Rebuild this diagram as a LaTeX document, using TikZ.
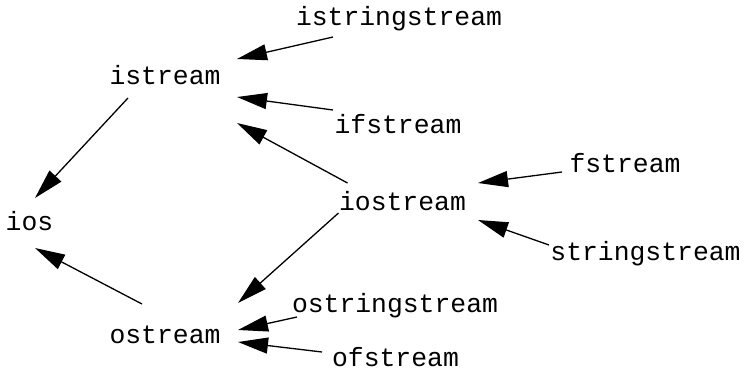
\documentclass[tikz,border=0pt]{standalone}
\usepackage{fontspec}
\setmonofont{Liberation Mono}
\usepackage{tikz}
\usetikzlibrary{arrows.meta}
\usetikzlibrary{positioning}

\begin{document}
\begin{tikzpicture}[
    cls/.style={inner sep=0pt, font=\fontsize{13.2}{15}\selectfont\ttfamily,
    text height=8.5pt, text depth=2.5pt},
    derives/.style={-{Triangle[length=15pt,width=8pt]}, line width=0.65pt},
    on grid]
    \useasboundingbox (-14.75pt,-73.5pt) rectangle (357.25pt,112pt);

    \node (ios) [cls] {ios};
    \node (istream) [cls, above right=73pt and 67.75pt of ios] {istream};
    \node (ostream) [cls, below right=56.5pt and 67.75pt of ios] {ostream};
    \node (istringstream) [cls, above right=29.5pt and 117pt of istream] {istringstream};
    \node (ifstream) [cls, below right=24.5pt and 116.5pt of istream] {ifstream};
    \node (iostream) [cls, below right=63pt and 118.75pt of istream] {iostream};
    \node (fstream) [cls, above right=19pt and 111.25pt of iostream] {fstream};
    \node (stringstream) [cls, below right=25pt and 121.5pt of iostream] {stringstream};
    \node (ostringstream) [cls, above right=15.5pt and 115pt of ostream] {ostringstream};
    \node (ofstream) [cls, below right=11.5pt and 115.25pt of ostream] {ofstream};

    % edges point from derived class to base class
    \draw[derives] ([shift={(-33pt,-9pt)}]istringstream.center) -- ([shift={(36pt,9.5pt)}]istream.center);
    \draw[derives] ([shift={(-32.5pt,8.5pt)}]ifstream.center) -- ([shift={(36pt,-9.5pt)}]istream.center);
    \draw[derives] ([shift={(-27.5pt,10.5pt)}]iostream.center) -- ([shift={(36pt,-22.5pt)}]istream.center);
    \draw[derives] ([shift={(-18.5pt,-10pt)}]istream.center) -- ([shift={(2.75pt,13pt)}]ios.center);
    \draw[derives] ([shift={(-11.5pt,16.5pt)}]ostream.center) -- ([shift={(2.75pt,-12pt)}]ios.center);
    \draw[derives] ([shift={(-32pt,-4.5pt)}]iostream.center) -- ([shift={(36.5pt,17pt)}]ostream.center);
    \draw[derives] ([shift={(-49pt,-5.5pt)}]ostringstream.center) -- ([shift={(36.5pt,3.5pt)}]ostream.center);
    \draw[derives] ([shift={(-36.75pt,4pt)}]ofstream.center) -- ([shift={(36.5pt,-2.5pt)}]ostream.center);
    \draw[derives] ([shift={(-31.5pt,-3pt)}]fstream.center) -- ([shift={(37.75pt,10.5pt)}]iostream.center);
    \draw[derives] ([shift={(-48.25pt,4.5pt)}]stringstream.center) -- ([shift={(37.75pt,-8pt)}]iostream.center);
\end{tikzpicture}
\end{document}
